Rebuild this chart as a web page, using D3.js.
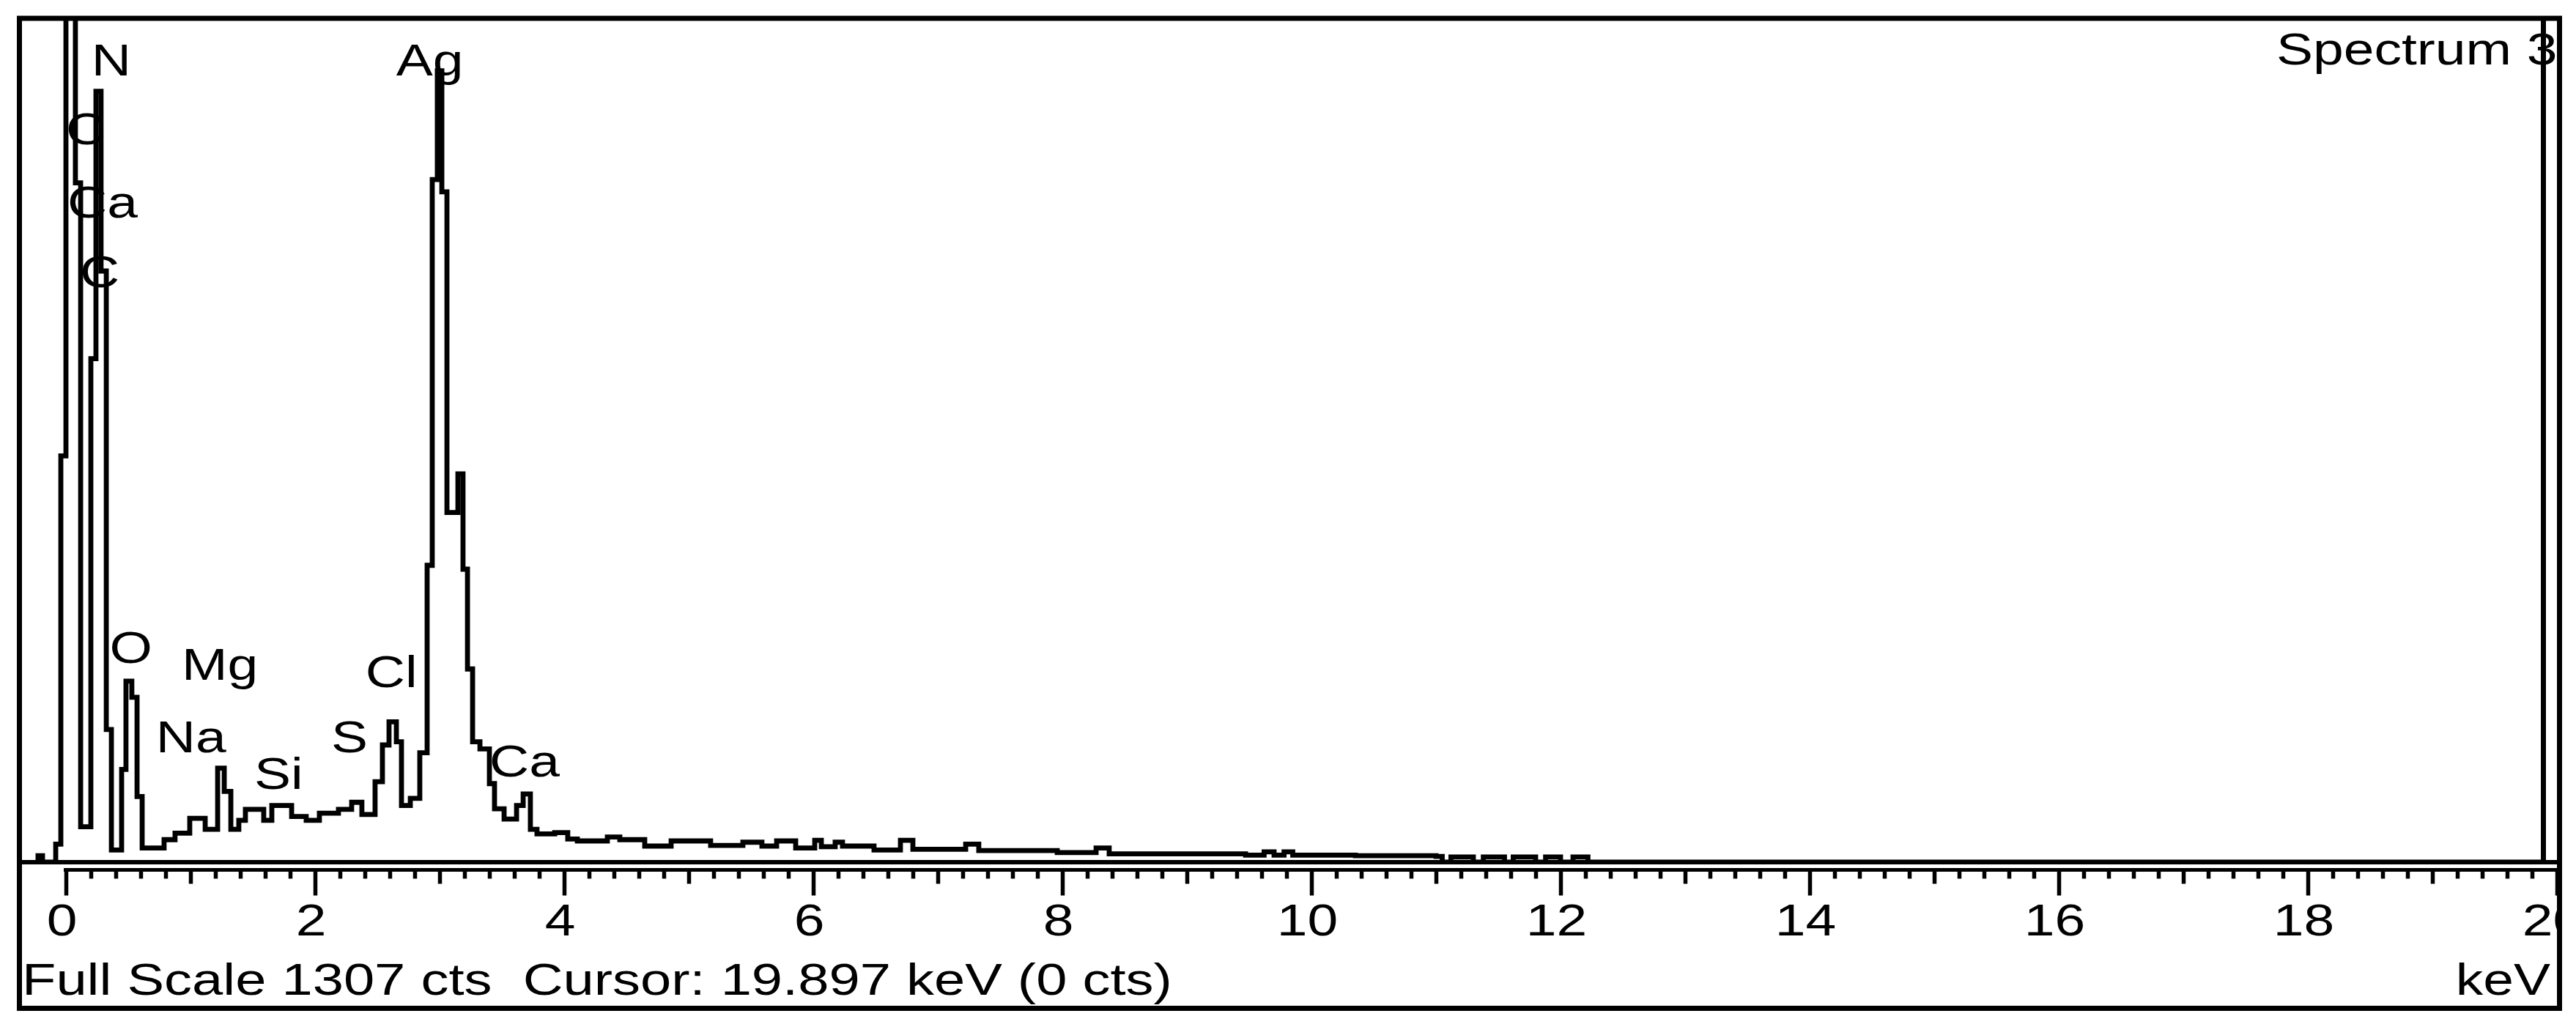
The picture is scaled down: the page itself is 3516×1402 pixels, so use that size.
<!DOCTYPE html>
<html><head><meta charset="utf-8">
<script src="https://cdn.jsdelivr.net/npm/d3@7"></script>
<style>
html,body{margin:0;padding:0;background:#fff;}
svg{display:block;}
text{font-family:"Liberation Sans",Arial,sans-serif;white-space:pre;}
</style></head><body>
<svg id="chart" width="3516" height="1402"></svg>
<script>
// ---- data ----
const energyKeV = [-0.235,-0.224,-0.188,-0.082,-0.041,0.000,0.076,0.118,0.200,0.241,0.282,0.324,0.365,0.447,0.482,0.529,0.571,0.612,0.788,0.876,0.994,1.118,1.218,1.271,1.324,1.388,1.441,1.588,1.653,1.812,1.929,2.035,2.188,2.294,2.376,2.482,2.541,2.594,2.653,2.694,2.765,2.841,2.900,2.941,2.982,3.018,3.059,3.147,3.188,3.224,3.265,3.324,3.400,3.441,3.518,3.618,3.671,3.729,3.782,3.924,4.029,4.106,4.347,4.447,4.647,4.859,5.176,5.435,5.588,5.706,5.859,6.012,6.065,6.176,6.235,6.488,6.700,6.800,7.224,7.329,7.959,8.271,8.376,9.471,9.62,9.70,9.78,9.85,10.353,11.0,11.05,11.12,11.30,11.38,11.55,11.62,11.80,11.88,12.00,12.10,12.22,20.0];
const counts = [0,10,0,28,631,1650,1055,55,782,1197,918,206,19,144,281,256,102,22,35,45,68,51,146,110,51,65,82,65,88,71,65,76,82,93,74,125,182,218,187,88,99,170,461,1060,1229,1041,543,603,455,300,187,176,122,83,67,88,106,51,44,46,36,33,39,35,25,33,26,31,25,33,22,34,24,31,25,19,34,20,28,18,15,22,13,11,16,11,16,11,10,9,0,8,0,8,0,8,0,8,0,8,0,0];
const majorTicks = [0,2,4,6,8,10,12,14,16,18,20];
const tickLabels = ["0","2","4","6","8","10","12","14","16","18","20"];
const peakLabels = ["N","C","Ca","C","Ag","O","Mg","Na","Si","S","Cl","Ca"];
const peakLabelKeV = [0.205,0.000,0.012,0.112,2.652,0.350,0.930,0.722,1.512,2.130,2.405,3.400];
const peakLabelCounts = [1222,1115,1001,893,1222,309,283,171,114,171,272,133];
const fullScale = 1307;
const xDomain = [0,20];
const titleText = "Spectrum 3";
const statusText = "Full Scale 1307 cts  Cursor: 19.897 keV (0 cts)";
const unitText = "keV";

// ---- layout ----
const W = 3516, H = 1402;
const FL = 26.5, FR = 3493.5, FT = 25, FB = 1376.5;   // outer frame
const innerRight = 3471.5;
const axisY = 1177;          // plot bottom line
const tickBaseY = 1187.5;    // tick ruler line
const FS = 61, SX = 1.23;    // font size, horizontal stretch

const svg = d3.select("#chart");
const defs = svg.append("defs");
defs.append("clipPath").attr("id","plotClip").append("rect")
  .attr("x", FL+3.5).attr("y", FT).attr("width", innerRight-3.5-(FL+3.5)).attr("height", axisY-FT);
defs.append("clipPath").attr("id","frameClip").append("rect")
  .attr("x", FL+3.5).attr("y", FT+3).attr("width", FR-3.5-(FL+3.5)).attr("height", FB-3.5-(FT+3));

const x = d3.scaleLinear().domain(xDomain).range([90, 3490]);
const y = d3.scaleLinear().domain([0, fullScale]).range([axisY, 28]);

svg.append("rect").attr("width", W).attr("height", H).attr("fill", "#fff");

function stretched(parent, px, py, str, anchor, sx){
  return parent.append("text")
    .attr("transform", `translate(${px},${py}) scale(${sx||SX},1)`)
    .attr("text-anchor", anchor).attr("font-size", FS).attr("fill", "#000")
    .text(str);
}

// peak labels (under the trace)
const labG = svg.append("g").attr("clip-path","url(#plotClip)");
peakLabels.forEach((t,i)=>{
  stretched(labG, x(peakLabelKeV[i]), y(peakLabelCounts[i]), t, "start");
});

// spectrum trace
const pts = energyKeV.map((e,i)=>({e, c: counts[i]}));
const line = d3.line().x(d=>x(d.e)).y(d=>y(d.c)).curve(d3.curveStepAfter);
svg.append("g").attr("clip-path","url(#plotClip)")
  .append("path").datum(pts).attr("d", line)
  .attr("fill","none").attr("stroke","#000").attr("stroke-width",6.8)
  .attr("stroke-linejoin","miter");

// title
stretched(svg, 3107, 88, titleText, "start");

// axis ruler
const axG = svg.append("g").attr("clip-path","url(#frameClip)");
const minorVals = d3.range(0, 201, 2).map(v=>v/10).filter(v=> Math.abs(v-Math.round(v))>1e-6);
const midVals = d3.range(1, 20, 2);
axG.append("g").attr("transform",`translate(0,${tickBaseY})`)
  .call(d3.axisBottom(x).tickValues(minorVals).tickSize(12).tickSizeOuter(0).tickFormat(""))
  .call(g=>g.select(".domain").remove())
  .call(g=>g.selectAll(".tick line").attr("stroke","#000").attr("stroke-width",5.5));
axG.append("g").attr("transform",`translate(0,${tickBaseY})`)
  .call(d3.axisBottom(x).tickValues(midVals).tickSize(19).tickSizeOuter(0).tickFormat(""))
  .call(g=>g.select(".domain").remove())
  .call(g=>g.selectAll(".tick line").attr("stroke","#000").attr("stroke-width",5.5));
const major = axG.append("g").attr("transform",`translate(0,${tickBaseY})`)
  .call(d3.axisBottom(x).tickValues(majorTicks).tickSize(35).tickSizeOuter(0)
        .tickFormat((d,i)=>tickLabels[i]));
major.select(".domain").attr("stroke","#000").attr("stroke-width",5)
  .attr("d", `M${x(0)-3},0H${FR}`);
major.selectAll(".tick line").attr("stroke","#000").attr("stroke-width",5.5);
major.attr("font-size", FS).attr("font-family", '"Liberation Sans",Arial,sans-serif');
major.selectAll(".tick text").attr("y", 0).attr("dy", null).attr("fill","#000")
  .attr("transform", `translate(-6,${1277-tickBaseY}) scale(${SX},1)`);

// plot bottom line & inner right border
svg.append("line").attr("x1", FL).attr("x2", FR).attr("y1", axisY).attr("y2", axisY)
  .attr("stroke","#000").attr("stroke-width",6);
svg.append("line").attr("x1", innerRight).attr("x2", innerRight).attr("y1", FT).attr("y2", axisY)
  .attr("stroke","#000").attr("stroke-width",7);

// status line and unit
stretched(svg, 30, 1358, statusText, "start", 1.245);
stretched(svg, 3481, 1358, unitText, "end");

// outer frame
svg.append("rect").attr("x", FL).attr("y", FT).attr("width", FR-FL).attr("height", FB-FT)
  .attr("fill","none").attr("stroke","#000").attr("stroke-width",7);
</script>
</body></html>
